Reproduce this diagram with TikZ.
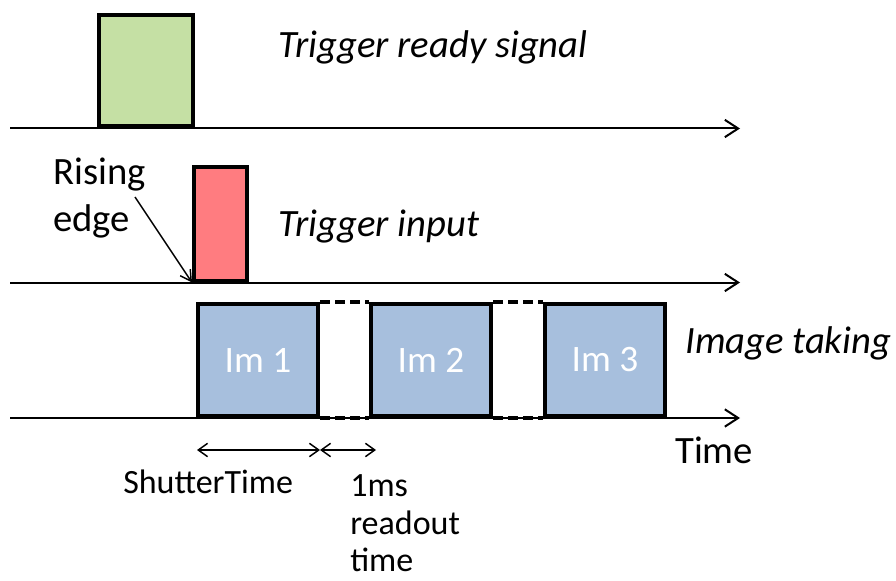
\documentclass[tikz,border=0pt]{standalone}
\usepackage{fontspec}
\setmainfont{Carlito}
\usetikzlibrary{arrows.meta,positioning}
\definecolor{readygreen}{RGB}{197,224,164}
\definecolor{trigred}{RGB}{255,124,128}
\definecolor{imblue}{RGB}{167,191,221}

\begin{document}
\begin{tikzpicture}[x=0.75pt,y=-0.75pt,
  axis/.style={line width=1.5pt,-{Straight Barb[length=10pt,width=13pt]}},
  pulse/.style={draw,line width=3pt,inner sep=0pt,anchor=south west},
  imbox/.style={pulse,fill=imblue,minimum width=90pt,minimum height=84pt,
    text=white,font=\fontsize{28}{32}\selectfont},
  gapline/.style={line width=3pt,dash pattern=on 7.5pt off 3.75pt},
  span/.style={line width=1.1pt,{Straight Barb[length=7pt,width=10pt]}-{Straight Barb[length=7pt,width=10pt]}},
  big/.style={inner sep=0pt,anchor=base west,font=\fontsize{29}{34}\selectfont},
  small/.style={inner sep=0pt,anchor=base west,font=\fontsize{25.5}{30}\selectfont}]
\useasboundingbox (0,0) rectangle (896,581);

% time axes
\draw[axis] (10,128.5)--(740,128.5);
\draw[axis] (10,282.5)--(740,282.5);
\draw[axis] (10,418)--(740,418);

% trigger ready
\node[pulse,fill=readygreen,minimum width=70.5pt,minimum height=83.25pt] (ready) at (97,128.5) {};
\node[big] (readytxt) at (278,58) {\itshape Trigger ready signal};

% trigger input
\node[pulse,fill=trigred,minimum width=39.75pt,minimum height=84.75pt] (trig) at (192,282.5) {};
\node[big] (trigtxt) at (278,237) {\itshape Trigger input};
\node[big] (rise) at (53,185) {Rising};
\node[big] (edge) at (53,232) {edge};
\coordinate (risefrom) at (135,197);
\draw[line width=1.1pt,-{Straight Barb[length=8pt,width=9pt]}] (risefrom)--(trig.south west);

% image taking
\node[imbox] (im1) at (196,418) {Im 1};
\node[imbox] (im2) at (369,418) {Im 2};
\node[imbox] (im3) at (543,418) {Im 3};
\draw[gapline] (im1.north east)--(im2.north west);
\draw[gapline] (im2.north east)--(im3.north west);
\draw[gapline] (im1.south east)--(im2.south west);
\draw[gapline] (im2.south east)--(im3.south west);
\node[big] (imtxt) at (685,353) {\itshape Image taking};
\node[big] (timetxt) at (675,463) {Time};

% durations
\coordinate (st0) at (197,450);
\coordinate (st1) at (320,450);
\coordinate (ro1) at (376,450);
\draw[span] (st0)--(st1);
\draw[span] (st1)--(ro1);
\node[small] (shutter) at (123,493) {ShutterTime};
\node[small] (ms) at (350,496) {1ms};
\node[small] (readout) at (350,534) {readout};
\node[small] (rotime) at (350,571) {time};
\end{tikzpicture}
\end{document}
